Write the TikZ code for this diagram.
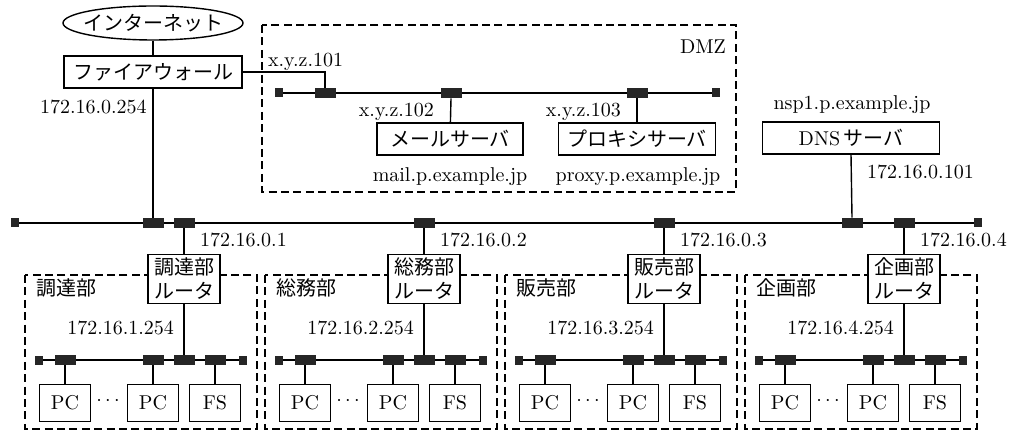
\documentclass[tikz,border=0pt]{standalone}
\usepackage{fontspec}
\newfontfamily\jp{Noto Sans CJK JP}
\usetikzlibrary{positioning,shapes.geometric}
\tikzset{%
	cloud/.style  = {draw, ellipse, minimum width=90pt, minimum height=17pt, inner xsep=-4pt, inner ysep=0pt, line width=0.7pt, font=\jp},
	host/.style   = {draw, fill=white, rectangle, minimum height=16pt, inner sep=1pt, line width=0.7pt, text centered},
	router/.style = {draw, fill=white, rectangle, align=center, minimum width=36pt, minimum height=24.5pt, inner sep=1pt, line width=0.7pt, font=\jp},
	pcbox/.style  = {draw, rectangle, minimum width=25.5pt, minimum height=18.5pt, inner sep=0pt, line width=0.7pt},
	port/.style   = {fill=black!85, rectangle, minimum width=10.5pt, minimum height=5pt, inner sep=0pt},
	term/.style   = {fill=black!85, rectangle, minimum width=4pt, minimum height=4.5pt, inner sep=0pt},
	bus/.style    = {line width=1pt},
	link/.style   = {line width=0.7pt},
	zone/.style   = {line width=0.7pt, dash pattern=on 4pt off 2.2pt},
}

\begin{document}
\begin{tikzpicture}[x=0.5pt,y=-0.5pt]
	\useasboundingbox (0,0) rectangle (1010,432);
	% internet, firewall
	\node[cloud] (inet) at (153,23) {インターネット};
	\node[host, minimum width=89pt, font=\jp] (fw) at (153,72) {ファイアウォール};
	\draw[link] (inet) -- (fw);
	\node[anchor=west] (fwip) at (33,107) {172.16.0.254};
	% DMZ
	\draw[zone] (262,25) rectangle (736,192);
	\node[anchor=east] (dmz) at (733,47) {DMZ};
	\node[term] (dt1) at (279,93) {};
	\node[term] (dt2) at (716,93) {};
	\draw[bus] (dt1) -- (dt2);
	\node[port] (dp1) at (325,93) {};
	\node[port] (dp2) at (451,93) {};
	\node[port] (dp3) at (637,93) {};
	\draw[link] (fw.east) -| (dp1.north);
	\node[anchor=west] (ip101) at (261,62) {x.y.z.101};
	\node[anchor=east] (ip102) at (441,112) {x.y.z.102};
	\node[anchor=east] (ip103) at (628,112) {x.y.z.103};
	\node[host, minimum width=73pt, font=\jp] (mail) at (450,139) {メールサーバ};
	\node[host, minimum width=78.5pt, font=\jp] (proxy) at (637,139) {プロキシサーバ};
	\draw[link] (dp2.south) -- (mail);
	\draw[link] (dp3.south) -- (proxy);
	\node (mailname) at (450,177) {mail.p.example.jp};
	\node (proxyname) at (638,177) {proxy.p.example.jp};
	% DNS
	\node (dnsname) at (852,105) {nsp1.p.example.jp};
	\node[host, minimum width=88.5pt] (dns) at (851,138) {DNS\,{\jp サーバ}};
	\node[anchor=west] (dnsip) at (860,172) {172.16.0.101};
	% backbone
	\node[term] (mt1) at (15,223) {};
	\node[term] (mt2) at (978,223) {};
	\draw[bus] (mt1) -- (mt2);
	\node[port] (pfw) at (153,223) {};
	\node[port] (pdns) at (852,223) {};
	\draw[link] (fw.south) -- (pfw.north);
	\draw[link] (dns.south) -- (pdns.north);
	% departments
	\foreach \n/\nm/\r in {1/調達部/184, 2/総務部/424, 3/販売部/664, 4/企画部/904} {
		\draw[zone] (\r-159,275) rectangle (\r+73,429);
		\node[anchor=west, font=\jp] (dn\n) at (\r-155,288) {\nm};
		\node[port] (rp\n) at (\r,223) {};
		\node[anchor=west] (rip\n) at (\r+9,240) {172.16.0.\n};
		\node[router] (r\n) at (\r,279) {\nm\\ルータ};
		\draw[link] (rp\n.south) -- (r\n.north);
		\node[anchor=east] (lip\n) at (\r-3,328) {172.16.\n.254};
		\node[term] (lt\n) at (\r-145,360) {};
		\node[term] (rt\n) at (\r+59,360) {};
		\draw[bus] (lt\n) -- (rt\n);
		\node[port] (lp\n) at (\r,360) {};
		\draw[link] (r\n.south) -- (lp\n.north);
		\foreach \k/\dx/\t in {a/-119/PC, b/-31/PC, c/31/FS} {
			\node[port] (hp\n\k) at (\r+\dx,360) {};
			\node[pcbox] (h\n\k) at (\r+\dx,403) {\t};
			\draw[link] (hp\n\k.south) -- (h\n\k.north);
		}
		\node (dots\n) at (\r-76,401) {$\cdots$};
	}
\end{tikzpicture}
\end{document}
